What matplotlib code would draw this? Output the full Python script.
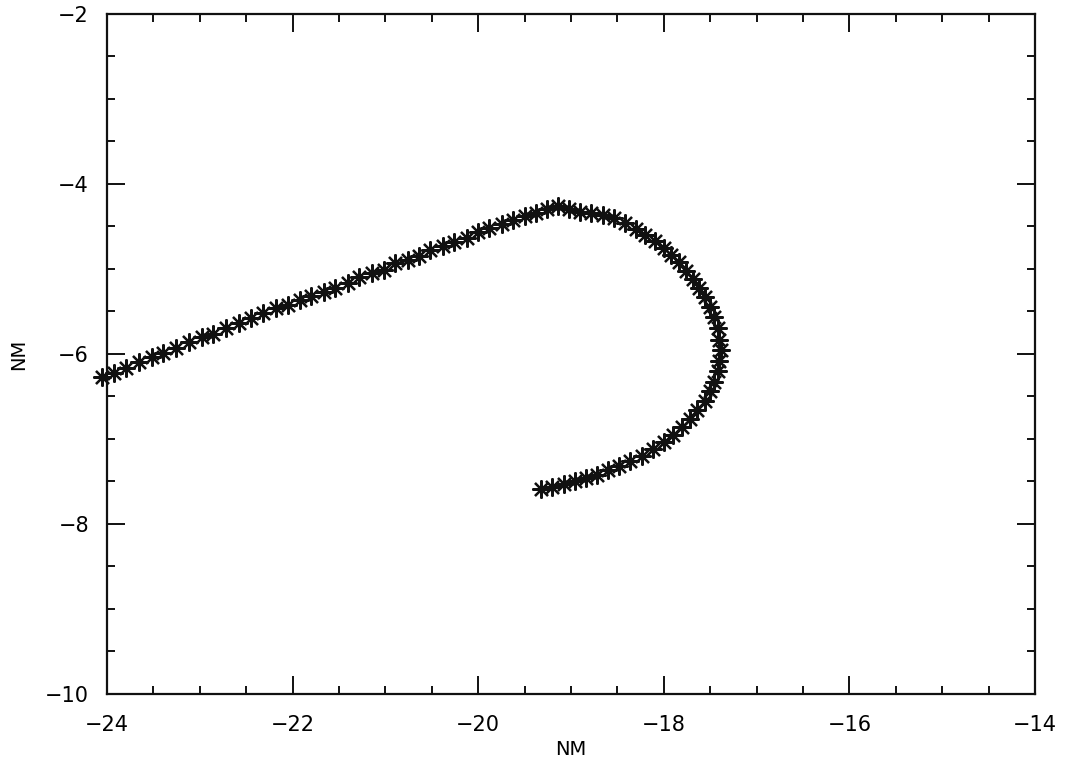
import matplotlib
matplotlib.use("Agg")
import matplotlib.pyplot as plt
from matplotlib.ticker import MultipleLocator

# Spur in NM
x_nm = [-24.05, -23.92, -23.80, -23.66, -23.52, -23.40, -23.26, -23.12, -22.98, -22.86,
        -22.72, -22.58, -22.45, -22.32, -22.18, -22.05, -21.92, -21.80, -21.66, -21.54,
        -21.40, -21.28, -21.14, -21.02, -20.90, -20.76, -20.64, -20.52, -20.38, -20.26,
        -20.12, -20.00, -19.88, -19.74, -19.62, -19.50, -19.38, -19.26, -19.14,
        -19.02, -18.90, -18.78, -18.66, -18.54, -18.42, -18.30, -18.20, -18.10, -18.00,
        -17.92, -17.84, -17.76, -17.68, -17.62, -17.56, -17.50, -17.46, -17.42, -17.40,
        -17.38, -17.40, -17.42, -17.46, -17.50, -17.56, -17.64, -17.72, -17.80, -17.90,
        -18.00, -18.12, -18.24, -18.36, -18.48, -18.60, -18.72, -18.84, -18.96, -19.08,
        -19.20, -19.32]
y_nm = [-6.27, -6.22, -6.16, -6.10, -6.04, -5.99, -5.93, -5.86, -5.80, -5.76,
        -5.70, -5.63, -5.58, -5.52, -5.46, -5.42, -5.37, -5.32, -5.27, -5.22,
        -5.16, -5.10, -5.05, -5.01, -4.93, -4.90, -4.85, -4.78, -4.73, -4.68,
        -4.63, -4.56, -4.52, -4.47, -4.42, -4.38, -4.34, -4.30, -4.26,
        -4.30, -4.33, -4.34, -4.37, -4.40, -4.46, -4.53, -4.60, -4.67, -4.75,
        -4.84, -4.92, -5.02, -5.12, -5.22, -5.33, -5.45, -5.57, -5.70, -5.83,
        -5.95, -6.08, -6.20, -6.33, -6.44, -6.55, -6.66, -6.76, -6.86, -6.95,
        -7.04, -7.12, -7.20, -7.26, -7.32, -7.37, -7.42, -7.46, -7.50, -7.53,
        -7.56, -7.59]
x_ticks = [-24, -22, -20, -18, -16, -14]
y_ticks = [-10, -8, -6, -4, -2]

fig = plt.figure(figsize=(10.65, 7.68), dpi=100)
ax = fig.add_axes([0.1005, 0.0964, 0.8713, 0.8854])

ax.plot(x_nm, y_nm, linestyle="none", marker=(8, 2, 0), markersize=13,
        markeredgewidth=1.6, color="#111111", clip_on=False)

ax.set_xlim(-24, -14)
ax.set_ylim(-10, -2)
ax.set_xticks(x_ticks)
ax.set_xticklabels(["\u2212%d" % abs(v) for v in x_ticks])
ax.set_yticks(y_ticks)
ax.set_yticklabels(["\u2212%d" % abs(v) for v in y_ticks])
ax.xaxis.set_minor_locator(MultipleLocator(0.5))
ax.yaxis.set_minor_locator(MultipleLocator(0.5))
ax.tick_params(which="both", direction="in", top=True, right=True,
               width=1.4, color="#111111")
ax.tick_params(which="major", length=13, labelsize=15)
ax.tick_params(axis="x", which="major", pad=15)
ax.tick_params(axis="y", which="major", pad=13)
ax.tick_params(which="minor", length=6)
for s in ax.spines.values():
    s.set_linewidth(1.6)
    s.set_color("#111111")

ax.set_xlabel("NM", fontsize=14, labelpad=4)
ax.set_ylabel("NM", fontsize=14, labelpad=12)

fig.savefig("out.png", dpi=100)
